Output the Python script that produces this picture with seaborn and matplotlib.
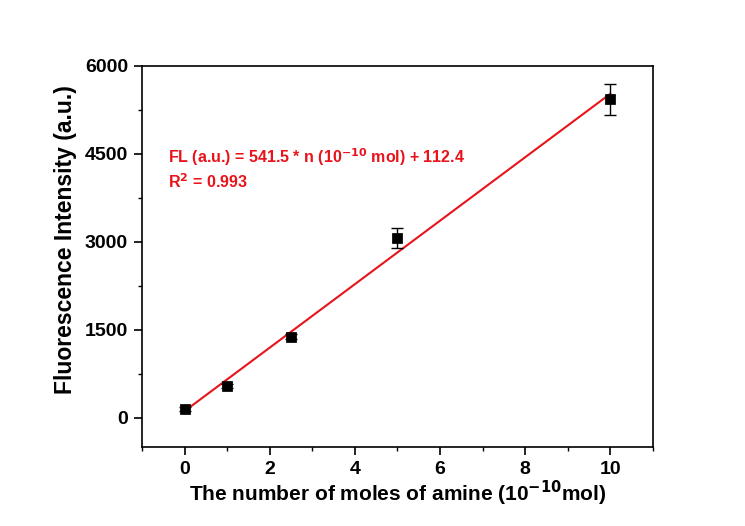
import numpy as np
import pandas as pd
import matplotlib
matplotlib.use("Agg")
import matplotlib.pyplot as plt
import seaborn as sns
from matplotlib.ticker import MultipleLocator

moles = [0, 1, 2.5, 5, 10]
intensity = [150, 545, 1380, 3060, 5430]
errors = [30, 30, 40, 170, 270]
slope = 541.5
intercept = 112.4

sns.set_theme(style="white")
plt.rcParams['font.family'] = ['Liberation Sans', 'DejaVu Sans']
plt.rcParams['font.weight'] = 'bold'
plt.rcParams['text.color'] = 'black'
plt.rcParams['axes.labelcolor'] = 'black'
plt.rcParams['xtick.color'] = 'black'
plt.rcParams['ytick.color'] = 'black'

df = pd.DataFrame({"n": moles, "FL": intensity})
fig = plt.figure(figsize=(7.45, 5.26), dpi=100)
ax = fig.add_axes([142/745, 1-447/526, (653-142)/745, (447-66)/526])

xfit = np.array([moles[0], moles[-1]])
ax.plot(xfit, slope * xfit + intercept, color="#e8131b", lw=1.5, zorder=2)
ax.errorbar(moles, intensity, yerr=errors, fmt='none', ecolor='black', elinewidth=1.0, capsize=4, capthick=1.0, zorder=3)
sns.scatterplot(data=df, x="n", y="FL", marker="s", color="black", s=45, edgecolor="black", ax=ax, zorder=4)

ax.set_xlim(-1, 11)
ax.set_ylim(-500, 6000)
ax.xaxis.set_major_locator(MultipleLocator(2))
ax.xaxis.set_minor_locator(MultipleLocator(1))
ax.yaxis.set_major_locator(MultipleLocator(1500))
ax.yaxis.set_minor_locator(MultipleLocator(750))
ax.tick_params(which='both', direction='out', bottom=True, left=True, top=False, right=False, color='black')
ax.tick_params(which='major', length=6, width=1.2, labelsize=14, pad=4)
ax.tick_params(which='minor', length=3, width=1.0)
for lab in ax.get_xticklabels() + ax.get_yticklabels():
    lab.set_fontweight('bold')
for sp in ax.spines.values():
    sp.set_color('black')
    sp.set_linewidth(1.2)

ax.set_xlabel(r"The number of moles of amine (10$^{\mathbf{-10}}$mol)", fontsize=15, fontweight='bold', labelpad=1)
ax.set_ylabel("Fluorescence Intensity (a.u.)", fontsize=16.5, fontweight='bold')
ax.yaxis.set_label_coords(-0.127, 0.545)

ax.text(-0.4, 4450, r"FL (a.u.) = 541.5 * n (10$^{\mathbf{-10}}$ mol) + 112.4", color="#e8131b", fontsize=11.5, fontweight='bold', va='center')
ax.text(-0.4, 4030, r"R$^{\mathbf{2}}$ = 0.993", color="#e8131b", fontsize=11.5, fontweight='bold', va='center')

fig.savefig("out.png", dpi=100)
